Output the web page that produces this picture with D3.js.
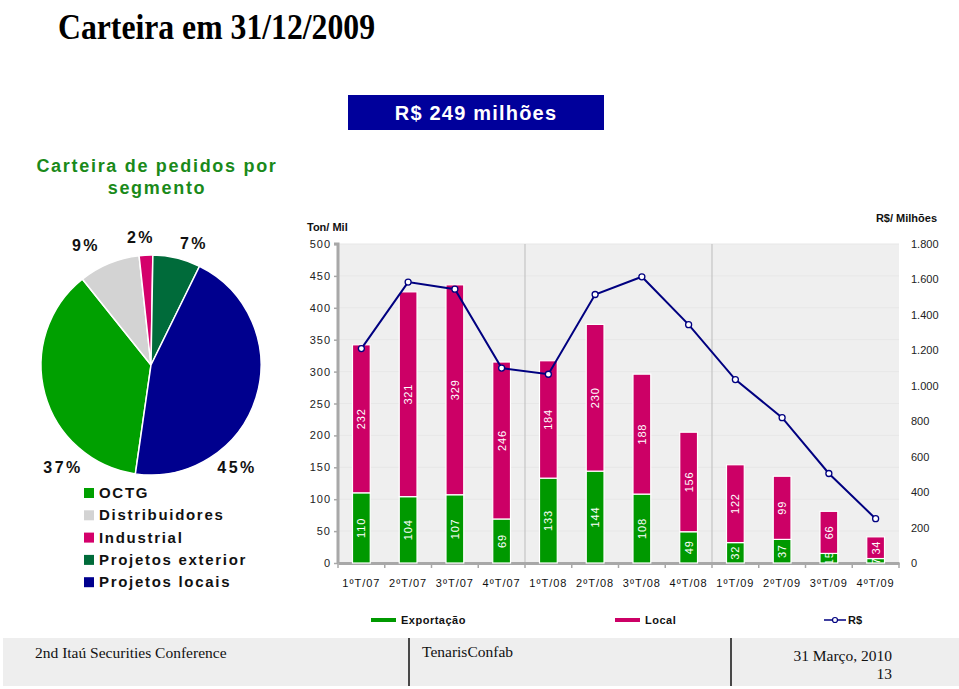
<!DOCTYPE html>
<html><head><meta charset="utf-8">
<script src="https://cdn.jsdelivr.net/npm/d3@7/dist/d3.min.js"></script>
<style>
html,body{margin:0;padding:0;background:#fff;}
svg{display:block;}
</style></head>
<body>
<svg id="c" width="959" height="689"></svg>
<script>
// ---------- DATA ----------
const quarters = ["1ºT/07","2ºT/07","3ºT/07","4ºT/07","1ºT/08","2ºT/08","3ºT/08","4ºT/08","1ºT/09","2ºT/09","3ºT/09","4ºT/09"];
const exportacao = [110,104,107,69,133,144,108,49,32,37,15,7];
const local = [232,321,329,246,184,230,188,156,122,99,66,34];
const receita = [1210,1585,1545,1100,1065,1515,1615,1345,1035,820,505,250];
const leftTicks = [0,50,100,150,200,250,300,350,400,450,500];
const rightTicks = [0,200,400,600,800,1000,1200,1400,1600,1800];
const segments = ["OCTG","Distribuidores","Industrial","Projetos exterior","Projetos locais"];
const segmentShare = [37,9,2,7,45];
const segmentColors = ["#00A000","#D3D3D3","#D4006B","#006B3A","#00008E"];

// ---------- SETUP ----------
const svg = d3.select("#c");
const SANS = "'Liberation Sans', Arial, sans-serif";
const SERIF = "'Liberation Serif', 'Times New Roman', serif";
const GREEN = "#009900", PINK = "#CC0066", NAVY = "#000080";

// Title
svg.append("text").attr("x",58).attr("y",39)
  .attr("font-family",SERIF).attr("font-weight","bold").attr("font-size",35)
  .attr("textLength",317).attr("lengthAdjust","spacingAndGlyphs")
  .text("Carteira em 31/12/2009");

// Blue box
svg.append("rect").attr("x",348).attr("y",95).attr("width",256).attr("height",35).attr("fill","#00009B");
svg.append("text").attr("x",476).attr("y",120).attr("text-anchor","middle")
  .attr("font-family",SANS).attr("font-weight","bold").attr("font-size",20)
  .attr("letter-spacing",1.2).attr("fill","#fff").text("R$ 249 milhões");

// Subtitle
const sub = svg.append("text").attr("font-family",SANS).attr("font-weight","bold")
  .attr("font-size",18).attr("fill","#1A8A1A").attr("letter-spacing",1.7).attr("text-anchor","middle");
sub.append("tspan").attr("x",157).attr("y",172).text("Carteira de pedidos por");
sub.append("tspan").attr("x",157).attr("y",194).text("segmento");

// ---------- PIE ----------
const pc = {x:151, y:365}, R = 110;
const off = 0.017;
const pieGen = d3.pie().sort(null).value(d=>d)
  .startAngle(off + 2*Math.PI*0.52).endAngle(off + 2*Math.PI*1.52);
const arcs = pieGen(segmentShare);
const arcGen = d3.arc().innerRadius(0).outerRadius(R);
const pg = svg.append("g").attr("transform",`translate(${pc.x},${pc.y})`);
pg.selectAll("path").data(arcs).join("path")
  .attr("d",arcGen).attr("fill",(d,i)=>segmentColors[i])
  .attr("stroke","#fff").attr("stroke-width",1.5);
// label anchor offsets relative to pie center (layout)
const pieLabelOffset = [[-88,108],[-65,-114],[-10,-122],[43,-116],[86,108]];
pg.selectAll("text.pl").data(arcs).join("text").attr("class","pl")
  .attr("x",(d,i)=>pieLabelOffset[i][0]).attr("y",(d,i)=>pieLabelOffset[i][1])
  .attr("text-anchor","middle").attr("font-family",SANS).attr("font-weight","bold")
  .attr("font-size",16).attr("letter-spacing",2.5).attr("fill","#111")
  .text(d=>d.data+"%");

// Pie legend
const lg = svg.append("g");
segments.forEach((s,i)=>{
  const y = 498 + i*22.3;
  lg.append("rect").attr("x",84).attr("y",y-10).attr("width",10).attr("height",10).attr("fill",segmentColors[i]);
  lg.append("text").attr("x",99).attr("y",y).attr("font-family",SANS).attr("font-weight","bold")
    .attr("font-size",15).attr("letter-spacing",1.7).attr("fill","#111").text(s);
});

// ---------- BAR CHART ----------
const X0 = 338, X1 = 899, Y0 = 563, Y1 = 244;
const x = d3.scaleBand().domain(quarters).range([X0,X1]).padding(0);
const yL = d3.scaleLinear().domain([0,500]).range([Y0,Y1]);
const yR = d3.scaleLinear().domain([0,1800]).range([Y0,Y1]);
const fmtBR = d3.formatLocale({decimal:",",thousands:".",grouping:[3],currency:["R$",""]}).format(",");

const ch = svg.append("g");
ch.append("rect").attr("x",X0).attr("y",Y1).attr("width",X1-X0).attr("height",Y0-Y1).attr("fill","#EFEFEF");
// faint gridlines
ch.selectAll("line.g").data(leftTicks.slice(1)).join("line").attr("class","g")
  .attr("x1",X0).attr("x2",X1).attr("y1",d=>yL(d)).attr("y2",d=>yL(d))
  .attr("stroke","#E7E7E7").attr("stroke-width",1);
// year separators
[4,8].forEach(i=>{
  const xs = x(quarters[i]);
  ch.append("line").attr("x1",xs).attr("x2",xs).attr("y1",Y1).attr("y2",Y0).attr("stroke","#C4C4C4").attr("stroke-width",1.2);
});

// Left axis
const axL = ch.append("g").attr("transform",`translate(${X0},0)`)
  .call(d3.axisLeft(yL).tickValues(leftTicks).tickSize(4).tickPadding(3));
axL.select(".domain").attr("stroke","#A8A8A8").attr("stroke-width",3).attr("d",`M-4,${Y1}H0V${Y0}`);
axL.selectAll(".tick line").attr("stroke","#A8A8A8").attr("stroke-width",1.5);
axL.selectAll(".tick text").attr("font-family",SANS).attr("font-size",11).attr("letter-spacing",1).attr("fill","#222");

// Right axis labels
const axR = ch.append("g").attr("transform",`translate(${X1},0)`)
  .call(d3.axisRight(yR).tickValues(rightTicks).tickSize(0).tickPadding(12).tickFormat(fmtBR));
axR.select(".domain").remove();
axR.selectAll(".tick text").attr("font-family",SANS).attr("font-size",11).attr("fill","#222");

// Bottom axis
const axB = ch.append("g").attr("transform",`translate(0,${Y0})`)
  .call(d3.axisBottom(x).tickSize(0).tickPadding(16));
axB.select(".domain").attr("stroke","#A8A8A8").attr("stroke-width",3);
axB.selectAll(".tick text").attr("font-family",SANS).attr("font-size",11).attr("letter-spacing",1).attr("fill","#111");
const bounds = quarters.map(q=>x(q)).concat([X1]);
ch.selectAll("line.bt").data(bounds).join("line").attr("class","bt")
  .attr("x1",d=>d).attr("x2",d=>d).attr("y1",Y0).attr("y2",Y0+5)
  .attr("stroke","#A8A8A8").attr("stroke-width",1.5);

// Axis titles
svg.append("text").attr("x",307).attr("y",231).attr("font-family",SANS).attr("font-weight","bold")
  .attr("font-size",11).attr("fill","#111").text("Ton/ Mil");
svg.append("text").attr("x",937).attr("y",222).attr("text-anchor","end").attr("font-family",SANS).attr("font-weight","bold")
  .attr("font-size",11).attr("fill","#111").text("R$/ Milhões");

// Bars
const bw = x.bandwidth()*0.38;
const defs = svg.append("defs");
const barData = [];
quarters.forEach((q,i)=>{
  barData.push({q, i, k:"e", v0:0, v1:exportacao[i], v:exportacao[i], c:GREEN});
  barData.push({q, i, k:"l", v0:exportacao[i], v1:exportacao[i]+local[i], v:local[i], c:PINK});
});
const bx = d=>x(d.q)+x.bandwidth()/2-bw/2;
barData.forEach((d,j)=>{
  defs.append("clipPath").attr("id","cp"+j).attr("clipPathUnits","userSpaceOnUse").append("rect")
    .attr("x",bx(d)).attr("y",yL(d.v1)).attr("width",bw).attr("height",yL(d.v0)-yL(d.v1));
});
const bg = ch.append("g");
bg.selectAll("rect").data(barData).join("rect")
  .attr("x",bx).attr("y",d=>yL(d.v1)).attr("width",bw).attr("height",d=>yL(d.v0)-yL(d.v1))
  .attr("fill",d=>d.c).attr("stroke","#fff").attr("stroke-width",1.2);
const lblG = bg.selectAll("g.lb").data(barData).join("g").attr("class","lb")
  .attr("clip-path",(d,j)=>`url(#cp${j})`);
lblG.append("text")
  .attr("transform",d=>`translate(${x(d.q)+x.bandwidth()/2+4},${(yL(d.v0)+yL(d.v1))/2}) rotate(-90)`)
  .attr("text-anchor","middle").attr("font-family",SANS).attr("font-size",11).attr("letter-spacing",0.8)
  .attr("fill","#fff").text(d=>d.v);

// Line
const lineGen = d3.line().x((d,i)=>x(quarters[i])+x.bandwidth()/2).y(d=>yR(d));
ch.append("path").datum(receita).attr("d",lineGen).attr("fill","none").attr("stroke",NAVY).attr("stroke-width",2);
ch.selectAll("circle.m").data(receita).join("circle").attr("class","m")
  .attr("cx",(d,i)=>x(quarters[i])+x.bandwidth()/2).attr("cy",d=>yR(d)).attr("r",3)
  .attr("fill","#fff").attr("stroke",NAVY).attr("stroke-width",1.3);

// Chart legend
const cl = svg.append("g").attr("font-family",SANS).attr("font-weight","bold").attr("font-size",11).attr("fill","#111");
cl.append("rect").attr("x",371).attr("y",618).attr("width",25).attr("height",4).attr("fill",GREEN);
cl.append("text").attr("x",401).attr("y",624).attr("letter-spacing",0.5).text("Exportação");
cl.append("rect").attr("x",615).attr("y",618).attr("width",25).attr("height",4).attr("fill",PINK);
cl.append("text").attr("x",645).attr("y",624).attr("letter-spacing",0.5).text("Local");
cl.append("line").attr("x1",824).attr("x2",846).attr("y1",620).attr("y2",620).attr("stroke",NAVY).attr("stroke-width",1.5);
cl.append("circle").attr("cx",835).attr("cy",620).attr("r",2.5).attr("fill","#fff").attr("stroke",NAVY).attr("stroke-width",1.2);
cl.append("text").attr("x",848).attr("y",624).text("R$");

// ---------- FOOTER ----------
const ft = svg.append("g");
ft.append("rect").attr("x",3).attr("y",638).attr("width",956).attr("height",48).attr("fill","#EEEEEE");
[409,731].forEach(xx=>ft.append("line").attr("x1",xx).attr("x2",xx).attr("y1",638).attr("y2",686).attr("stroke","#111").attr("stroke-width",1.5));
const ff = {"font-family":SERIF,"font-size":15.5,"fill":"#111"};
function ftext(t,xx,yy,anchor){const e=ft.append("text").attr("x",xx).attr("y",yy).attr("text-anchor",anchor||"start");Object.entries(ff).forEach(([k,v])=>e.attr(k,v));e.text(t);}
ftext("2nd Itaú Securities Conference",35,658);
ftext("TenarisConfab",422,657);
ftext("31 Março, 2010",892,661,"end");
ftext("13",892,679,"end");
</script>
</body></html>
